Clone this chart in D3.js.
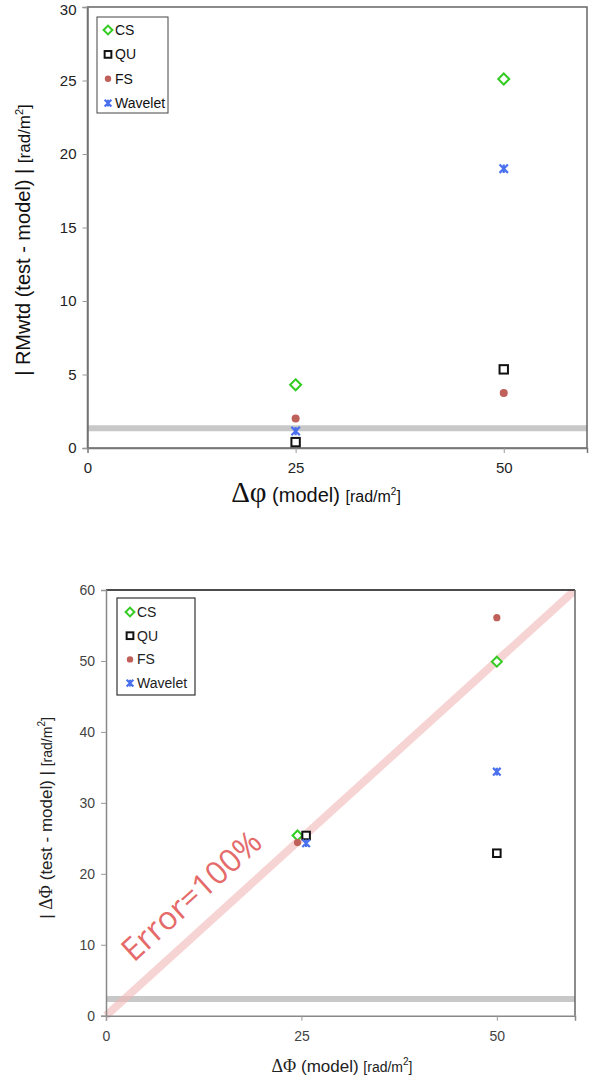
<!DOCTYPE html>
<html><head><meta charset="utf-8">
<script src="https://cdn.jsdelivr.net/npm/d3@7"></script>
<style>body{margin:0;background:#fff}svg{display:block}</style>
</head><body>
<svg id="c" width="595" height="1079"></svg>
<script>
// ---- data ----
const series = ["CS","QU","FS","Wavelet"];
const colors = {CS:"#33cc22",QU:"#111111",FS:"#c0605a",Wavelet:"#4a70ee"};
// top chart: |RMwtd (test-model)| vs Δφ(model)
const topX = [25, 50];
const topCS = [4.3, 25.1];
const topQU = [0.4, 5.35];
const topFS = [2.0, 3.75];
const topWavelet = [1.15, 19.0];
const topBand = 1.35;
const topXTicks = [0, 25, 50];
const topYTicks = [0, 5, 10, 15, 20, 25, 30];
// bottom chart: |ΔΦ (test-model)| vs ΔΦ(model)
const botXCS = [24.5, 50], botCS = [25.4, 49.9];
const botXQU = [25.6, 50], botQU = [25.4, 22.9];
const botXFS = [24.5, 50], botFS = [24.4, 56.1];
const botXWavelet = [25.6, 50], botWavelet = [24.3, 34.4];
const botBand = 2.35;
const errorLine = [[0,0],[60,60]];
const botXTicks = [0, 25, 50];
const botYTicks = [0, 10, 20, 30, 40, 50, 60];

const svg = d3.select("#c");

function marker(g, type, x, y, s) {
  const c = colors[type];
  if (type === "CS") {
    const r = s*0.55;
    g.append("path").attr("d",`M${x},${y-r}L${x+r},${y}L${x},${y+r}L${x-r},${y}Z`)
      .attr("fill","#fff").attr("stroke",c).attr("stroke-width",2);
  } else if (type === "QU") {
    const r = s*0.42;
    g.append("rect").attr("x",x-r).attr("y",y-r).attr("width",2*r).attr("height",2*r)
      .attr("fill","#fff").attr("stroke",c).attr("stroke-width",2);
  } else if (type === "FS") {
    g.append("circle").attr("cx",x).attr("cy",y).attr("r",s*0.4).attr("fill",c);
  } else {
    const r = s*0.42;
    g.append("path").attr("d",`M${x-r},${y-r}L${x+r},${y+r}M${x-r},${y+r}L${x+r},${y-r}M${x},${y-r}L${x},${y+r}`)
      .attr("stroke",c).attr("stroke-width",2.2).attr("fill","none");
  }
}

// ================= TOP CHART =================
{
  const x = d3.scaleLinear().domain([0,60]).range([87.5,587]);
  const y = d3.scaleLinear().domain([0,30]).range([448,7]);
  const g = svg.append("g");
  g.append("line").attr("x1",x(0)).attr("x2",x(60)).attr("y1",y(topBand)).attr("y2",y(topBand))
    .attr("stroke","#c8c8c8").attr("stroke-width",6);
  g.append("rect").attr("x",x(0)).attr("y",y(30)).attr("width",x(60)-x(0)).attr("height",y(0)-y(30))
    .attr("fill","none").attr("stroke","#666").attr("stroke-width",1.5);
  const ya = g.append("g").attr("transform",`translate(${x(0)},0)`)
    .call(d3.axisLeft(y).tickValues(topYTicks).tickSize(5).tickPadding(6));
  const xa = g.append("g").attr("transform",`translate(0,${y(0)})`)
    .call(d3.axisBottom(x).tickValues(topXTicks).tickSize(5).tickPadding(9));
  [ya,xa].forEach(a=>{
    a.select(".domain").attr("stroke","#777").attr("stroke-width",1.5);
    a.selectAll(".tick line").attr("stroke","#999");
    a.selectAll("text").attr("font-family","Liberation Sans, Arial, sans-serif").attr("font-size",15).attr("fill","#222");
  });
  ya.selectAll(".tick text").filter(d=>d===30).attr("dy","0.5em");
  const data = {CS:topCS,QU:topQU,FS:topFS,Wavelet:topWavelet};
  series.forEach(s => data[s].forEach((v,i)=>marker(g,s,x(topX[i]),y(v),10)));
  g.append("rect").attr("x",97).attr("y",17).attr("width",71).attr("height",96)
    .attr("fill","#fff").attr("stroke","#444").attr("stroke-width",1);
  series.forEach((s,i)=>{
    const ly = 30 + i*24.4;
    marker(g,s,108,ly,8);
    g.append("text").attr("x",115).attr("y",ly+5).text(s)
      .attr("font-family","Liberation Sans, Arial, sans-serif").attr("font-size",14).attr("fill","#111");
  });
  const yl = g.append("text").attr("transform","translate(30,240) rotate(-90)").attr("text-anchor","middle")
    .attr("font-family","Liberation Sans, Arial, sans-serif").attr("fill","#111");
  yl.append("tspan").attr("font-size",20).text("| RMwtd (test - model) | ");
  yl.append("tspan").attr("font-size",17).text("[rad/m");
  yl.append("tspan").attr("font-size",11).attr("dy",-7).text("2");
  yl.append("tspan").attr("font-size",17).attr("dy",7).text("]");
  const xl = g.append("text").attr("x",316).attr("y",502).attr("text-anchor","middle")
    .attr("font-family","Liberation Sans, Arial, sans-serif").attr("fill","#111");
  xl.append("tspan").attr("font-family","Liberation Serif, Times New Roman, serif").attr("font-size",29).text("Δφ");
  xl.append("tspan").attr("font-size",20).text(" (model) ");
  xl.append("tspan").attr("font-size",16).text("[rad/m");
  xl.append("tspan").attr("font-size",10).attr("dy",-7).text("2");
  xl.append("tspan").attr("font-size",16).attr("dy",7).text("]");
}

// ================= BOTTOM CHART =================
{
  const x = d3.scaleLinear().domain([0,60]).range([106,575]);
  const y = d3.scaleLinear().domain([0,60]).range([1015.7,590]);
  const g = svg.append("g");
  g.append("clipPath").attr("id","clipB").append("rect")
    .attr("x",x(0)-4).attr("y",y(60)).attr("width",x(60)-x(0)+4).attr("height",y(0)-y(60)+4);
  g.append("line").attr("x1",x(0)).attr("x2",x(60)).attr("y1",y(botBand)).attr("y2",y(botBand))
    .attr("stroke","#c8c8c8").attr("stroke-width",6);
  g.append("path").attr("clip-path","url(#clipB)")
    .attr("d",d3.line().x(d=>x(d[0])).y(d=>y(d[1]))(errorLine))
    .attr("stroke","#f2b8b8").attr("stroke-opacity",0.6).attr("stroke-width",8).attr("fill","none");
  const ang = Math.atan2(y(0)-y(60), x(60)-x(0))*180/Math.PI;
  g.append("text").attr("transform",`translate(199,904) rotate(${-ang})`).attr("text-anchor","middle")
    .attr("font-family","Open Sans, Liberation Sans, sans-serif").attr("font-size",32).attr("fill","#e56a6a")
    .text("Error=100%");
  g.append("line").attr("x1",x(0)).attr("x2",x(60)).attr("y1",y(60)).attr("y2",y(60)).attr("stroke","#111").attr("stroke-width",1.5);
  g.append("line").attr("x1",x(60)).attr("x2",x(60)).attr("y1",y(60)).attr("y2",y(0)).attr("stroke","#666").attr("stroke-width",1.5);
  const ya = g.append("g").attr("transform",`translate(${x(0)},0)`)
    .call(d3.axisLeft(y).tickValues(botYTicks).tickSize(5).tickPadding(6));
  const xa = g.append("g").attr("transform",`translate(0,${y(0)})`)
    .call(d3.axisBottom(x).tickValues(botXTicks).tickSize(5).tickPadding(10));
  [ya,xa].forEach(a=>{
    a.select(".domain").attr("stroke","#888").attr("stroke-width",1.5);
    a.selectAll(".tick line").attr("stroke","#999");
    a.selectAll("text").attr("font-family","Liberation Sans, Arial, sans-serif").attr("font-size",14).attr("fill","#444");
  });
  const xs = {CS:botXCS,QU:botXQU,FS:botXFS,Wavelet:botXWavelet};
  const ys = {CS:botCS,QU:botQU,FS:botFS,Wavelet:botWavelet};
  series.forEach(s => ys[s].forEach((v,i)=>marker(g,s,x(xs[s][i]),y(v),9)));
  g.append("rect").attr("x",117).attr("y",598).attr("width",78).attr("height",97)
    .attr("fill","#fff").attr("stroke","#333").attr("stroke-width",1.2);
  series.forEach((s,i)=>{
    const ly = 612 + i*23.7;
    marker(g,s,130,ly,8);
    g.append("text").attr("x",137).attr("y",ly+5).text(s)
      .attr("font-family","Liberation Sans, Arial, sans-serif").attr("font-size",14).attr("fill","#222");
  });
  const yl = g.append("text").attr("transform","translate(52,818) rotate(-90)").attr("text-anchor","middle")
    .attr("font-family","Liberation Sans, Arial, sans-serif").attr("fill","#222");
  yl.append("tspan").attr("font-size",17).text("| ");
  yl.append("tspan").attr("font-family","Liberation Serif, serif").attr("font-size",18).text("ΔΦ");
  yl.append("tspan").attr("font-size",17).text(" (test - model) | ");
  yl.append("tspan").attr("font-size",14).text("[rad/m");
  yl.append("tspan").attr("font-size",10).attr("dy",-7).text("2");
  yl.append("tspan").attr("font-size",14).attr("dy",7).text("]");
  const xl = g.append("text").attr("x",342).attr("y",1072).attr("text-anchor","middle")
    .attr("font-family","Liberation Sans, Arial, sans-serif").attr("fill","#222");
  xl.append("tspan").attr("font-family","Liberation Serif, serif").attr("font-size",18).text("ΔΦ");
  xl.append("tspan").attr("font-size",17).text(" (model)  ");
  xl.append("tspan").attr("font-size",14).text("[rad/m");
  xl.append("tspan").attr("font-size",10).attr("dy",-7).text("2");
  xl.append("tspan").attr("font-size",14).attr("dy",7).text("]");
}
</script>
</body></html>
